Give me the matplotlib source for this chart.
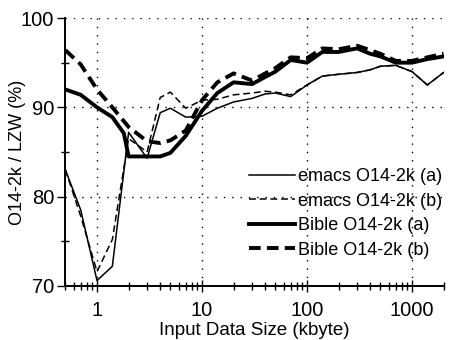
import matplotlib
matplotlib.use('Agg')
import matplotlib.pyplot as plt
from matplotlib.ticker import FixedLocator, LogLocator, NullFormatter, FixedFormatter, MultipleLocator

plt.rcParams['font.family'] = ['Liberation Sans', 'DejaVu Sans']

# input size (kbyte)
size_lo = [0.5, 0.7, 1, 1.4, 2, 3, 4, 5, 7, 10, 14, 20, 30, 40, 50, 70,
           100, 140, 200, 300, 400, 500, 700, 1000, 1400, 2000]
size_bible_a = [0.5, 0.7, 1, 1.4, 1.8, 2, 3, 4, 5, 7, 10, 14, 20, 30, 40, 50, 70,
                100, 140, 200, 300, 400, 500, 700, 1000, 1400, 2000]

emacs_a = [83.0, 78.5, 70.6, 72.2, 87.2, 84.3, 89.4, 89.9, 88.9, 89.0, 89.9, 90.6,
           91.0, 91.5, 91.6, 91.2, 92.5, 93.5, 93.7, 93.9, 94.2, 94.6, 94.7, 94.0,
           92.5, 93.9]
emacs_b = [83.0, 77.8, 71.6, 75.2, 86.5, 85.0, 91.1, 91.7, 89.9, 90.8, 90.9, 91.4,
           91.6, 91.8, 91.7, 91.4, 92.5, 93.5, 93.7, 93.9, 94.2, 94.6, 94.7, 94.0,
           92.5, 93.9]
bible_a = [92.0, 91.4, 90.0, 88.9, 87.1, 84.5, 84.5, 84.5, 84.9, 86.8, 89.6, 91.6,
           92.8, 92.6, 93.4, 94.0, 95.3, 95.0, 96.2, 96.2, 96.6, 96.0, 95.7, 95.0,
           95.0, 95.4, 95.7]
bible_b = [96.4, 94.8, 92.0, 90.0, 87.8, 86.2, 86.0, 86.3, 87.4, 90.8, 92.8, 93.8,
           93.0, 93.8, 94.4, 95.6, 95.5, 96.6, 96.5, 96.9, 96.4, 96.0, 95.2, 95.2,
           95.6, 96.0]

fig = plt.figure(figsize=(4.51, 3.40), dpi=100)
ax = fig.add_axes([0.145, 0.159, 0.8386, 0.788])

ax.plot(size_lo, emacs_a, color='black', lw=1.1, label='emacs O14-2k (a)')
ax.plot(size_lo, emacs_b, color='black', lw=1.1, dashes=(4.5, 2.5), label='emacs O14-2k (b)')
ax.plot(size_bible_a, bible_a, color='black', lw=2.8, label='Bible O14-2k (a)')
ax.plot(size_lo, bible_b, color='black', lw=2.8, dashes=(3, 1.6), label='Bible O14-2k (b)')

ax.set_xscale('log')
ax.set_xlim(0.5, 2000)
ax.set_ylim(70, 100)

ax.xaxis.set_major_locator(FixedLocator([1, 10, 100, 1000]))
ax.xaxis.set_major_formatter(FixedFormatter(['1', '10', '100', '1000']))
ax.xaxis.set_minor_locator(LogLocator(base=10, subs=range(2, 10), numticks=20))
ax.xaxis.set_minor_formatter(NullFormatter())
ax.yaxis.set_major_locator(MultipleLocator(10))
ax.yaxis.set_minor_locator(MultipleLocator(5))

ax.tick_params(axis='x', which='major', direction='inout', length=8, width=1, labelsize=14.5, pad=6.5)
ax.tick_params(axis='x', which='minor', direction='inout', length=6, width=1)
ax.tick_params(axis='y', which='major', direction='out', length=6, width=1, labelsize=14.5, pad=2)
ax.tick_params(axis='y', which='minor', direction='inout', length=6, width=1)

ax.grid(True, which='major', color='black', lw=1, linestyle=(0, (1, 5)))
for s in ['top', 'right']:
    ax.spines[s].set_visible(False)
for s in ['left', 'bottom']:
    ax.spines[s].set_linewidth(1.4)

ax.set_xlabel('Input Data Size (kbyte)', fontsize=13.5, labelpad=2)
ax.set_ylabel('O14-2k / LZW (%)', fontsize=13)
ax.yaxis.set_label_coords(-0.104, 0.5)

ax.legend(loc='upper left', bbox_to_anchor=(0.553, 0.506), bbox_transform=fig.transFigure,
          frameon=False, fontsize=13, handlelength=2.55, handletextpad=0.15,
          labelspacing=0.42, borderpad=0, borderaxespad=0)

fig.savefig('out.png', dpi=100)
